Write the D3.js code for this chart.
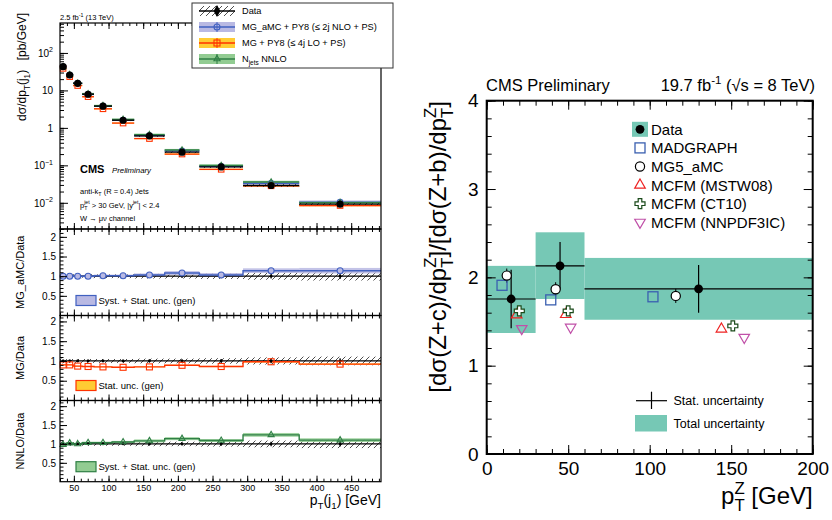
<!DOCTYPE html>
<html>
<head>
<meta charset="utf-8">
<script src="https://cdn.jsdelivr.net/npm/d3@7"></script>
<style>
  body { margin: 0; background: #fff; }
  svg { font-family: "Liberation Sans", Arial, Helvetica, sans-serif; }
  .axis path.domain { display: none; }
  .axis line { stroke: #000; }
</style>
</head>
<body>
<svg width="832" height="520"></svg>
<script>
// ---- left figure: W+jets, leading jet pT (13 TeV) ----
var binEdges  = [30, 39, 49, 62, 79, 105, 137, 181, 231, 294, 375, 493];
var dataXsec  = [43, 25.8, 15.5, 7.9, 3.8, 1.6, 0.61, 0.225, 0.091, 0.029, 0.0092];
var dataSyst  = [0.06, 0.05, 0.05, 0.05, 0.05, 0.05, 0.06, 0.06, 0.07, 0.09, 0.11];
var dataStat  = [0.01, 0.01, 0.01, 0.01, 0.01, 0.01, 0.02, 0.02, 0.03, 0.04, 0.05];
var ratioAMC  = [1.0, 1.0, 1.0, 1.0, 1.01, 1.01, 1.03, 1.08, 1.03, 1.14, 1.14];
var uncAMC    = [0.03, 0.03, 0.03, 0.03, 0.03, 0.03, 0.04, 0.05, 0.05, 0.06, 0.07];
var ratioMG   = [0.90, 0.90, 0.87, 0.86, 0.85, 0.84, 0.85, 0.89, 0.86, 0.98, 0.92];
var uncMG     = [0.01, 0.01, 0.01, 0.01, 0.01, 0.01, 0.01, 0.015, 0.015, 0.02, 0.02];
var ratioNNLO = [0.98, 1.02, 1.0, 1.03, 1.03, 1.05, 1.08, 1.14, 1.09, 1.24, 1.10];
var uncNNLO   = [0.03, 0.03, 0.03, 0.03, 0.03, 0.03, 0.04, 0.04, 0.04, 0.05, 0.05];

// ---- right figure: Z+c / Z+b ratio vs pT(Z) (8 TeV) ----
var zBins   = [0, 30, 60, 200];
var zcData  = [1.755, 2.13, 1.87];
var zcStat  = [0.33, 0.27, 0.27];
var zcTotLo = [1.37, 1.755, 1.52];
var zcTotHi = [2.13, 2.51, 2.22];
var madX  = [9.4, 39.3, 102],  madY  = [1.91, 1.745, 1.78];
var amcX  = [12.3, 42.3, 116], amcY  = [2.02, 1.865, 1.79];
var mstwX = [18.4, 48.5, 144], mstwY = [1.575, 1.58, 1.415];
var ct10X = [20, 50, 151],     ct10Y = [1.62, 1.62, 1.45];
var nnpdfX = [21.5, 51.5, 158], nnpdfY = [1.42, 1.435, 1.32];

var svg = d3.select("svg");

var blue = "#4060c0", blueBand = "#b9b9e3";
var red = "#ff3300", yellow = "#ffcc33";
var green = "#2f7f45", greenBand = "#92cc92";
var teal = "#76c8b5";

// hatch pattern for the data systematics
var defs = svg.append("defs");
defs.append("pattern")
    .attr("id", "hatch")
    .attr("patternUnits", "userSpaceOnUse")
    .attr("width", 6).attr("height", 6)
  .append("path")
    .attr("d", "M-1,1 l2,-2 M0,6 l6,-6 M5,7 l2,-2")
    .attr("stroke", "#222").attr("stroke-width", 0.8);

// helper for text with sub / superscripts, parts = [[text, "sub"|"sup"|"stack"|null, other]]
function richText(t, parts, size) {
  var off = 0;
  parts.forEach(function(p) {
    if (p[1] == "sub" || p[1] == "sup") {
      var d = p[1] == "sub" ? 0.3 * size : -0.45 * size;
      t.append("tspan").attr("font-size", size * 0.7).attr("dy", d - off).text(p[0]);
      off = d;
    } else if (p[1] == "stack") {
      // subscript p[0] with superscript p[2] placed over it
      var s = size * 0.7;
      t.append("tspan").attr("font-size", s).attr("dy", 0.3 * size - off).text(p[0]);
      t.append("tspan").attr("font-size", s).attr("dx", -0.61 * s * p[0].length).attr("dy", -0.72 * size).text(p[2]);
      off = -0.42 * size;
    } else {
      t.append("tspan").attr("dy", -off).text(p[0]);
      off = 0;
    }
  });
}

// ================= LEFT FIGURE =================
var xL = d3.scaleLinear().domain([30, 493]).range([60, 381]);
var yTop = d3.scaleLog().domain([0.002, 630]).range([229, 23]);
var panels = [
  { name: "MG_aMC/Data", ratio: ratioAMC, unc: uncAMC, line: blue, band: blueBand, mark: "circle",
    y: d3.scaleLinear().domain([0, 2.2]).range([315.5, 229]), leg: "Syst. + Stat. unc. (gen)" },
  { name: "MG/Data", ratio: ratioMG, unc: uncMG, line: red, band: yellow, mark: "square",
    y: d3.scaleLinear().domain([0, 2.15]).range([400.5, 315.5]), leg: "Stat. unc. (gen)" },
  { name: "NNLO/Data", ratio: ratioNNLO, unc: uncNNLO, line: green, band: greenBand, mark: "triangle",
    y: d3.scaleLinear().domain([0, 2.15]).range([481.7, 400.5]), leg: "Syst. + Stat. unc. (gen)" }
];
var bins = dataXsec.map(function(v, i) {
  return { lo: binEdges[i], hi: binEdges[i + 1], c: (binEdges[i] + binEdges[i + 1]) / 2, v: v, i: i };
});

function marker(g, type, x, y, size, col, fill) {
  if (type == "circle") {
    g.append("circle").attr("cx", x).attr("cy", y).attr("r", size * 0.5)
      .attr("fill", fill).attr("stroke", col).attr("stroke-width", 1.1);
  } else if (type == "square") {
    g.append("rect").attr("x", x - size / 2).attr("y", y - size / 2).attr("width", size).attr("height", size)
      .attr("fill", fill).attr("stroke", col).attr("stroke-width", 1.1);
  } else {
    g.append("path").attr("transform", "translate(" + x + "," + y + ")")
      .attr("d", d3.symbol(d3.symbolTriangle, size * size * 0.45)())
      .attr("fill", fill).attr("stroke", col).attr("stroke-width", 1.1);
  }
}

// ---- top panel ----
var topG = svg.append("g");
var theories = [
  { r: ratioMG, u: uncMG, line: red, band: yellow, mark: "square" },
  { r: ratioAMC, u: uncAMC, line: blue, band: blueBand, mark: "circle" },
  { r: ratioNNLO, u: uncNNLO, line: green, band: greenBand, mark: "triangle" }
];
theories.forEach(function(th) {
  bins.forEach(function(b) {
    var v = b.v * th.r[b.i];
    var y0 = yTop(v * (1 + th.u[b.i] + 0.03)), y1 = yTop(v * (1 - th.u[b.i] - 0.03));
    topG.append("rect").attr("x", xL(b.lo)).attr("width", xL(b.hi) - xL(b.lo))
      .attr("y", y0).attr("height", y1 - y0).attr("fill", th.band).attr("opacity", 0.9);
  });
});
bins.forEach(function(b) {
  var y0 = yTop(b.v * (1 + dataSyst[b.i])), y1 = yTop(b.v * (1 - dataSyst[b.i]));
  topG.append("rect").attr("x", xL(b.lo)).attr("width", xL(b.hi) - xL(b.lo))
    .attr("y", y0).attr("height", y1 - y0).attr("fill", "url(#hatch)");
});
theories.forEach(function(th) {
  bins.forEach(function(b) {
    var v = b.v * th.r[b.i];
    topG.append("line").attr("x1", xL(b.lo)).attr("x2", xL(b.hi))
      .attr("y1", yTop(v)).attr("y2", yTop(v)).attr("stroke", th.line).attr("stroke-width", 1.3);
  });
});
bins.forEach(function(b) {
  topG.append("line").attr("x1", xL(b.lo)).attr("x2", xL(b.hi))
    .attr("y1", yTop(b.v)).attr("y2", yTop(b.v)).attr("stroke", "#000").attr("stroke-width", 1.3);
});
theories.forEach(function(th) {
  bins.forEach(function(b) {
    var v = b.v * th.r[b.i];
    marker(topG, th.mark, xL(b.c), yTop(v), 5.5, th.line, "none");
  });
});
bins.forEach(function(b) {
  topG.append("circle").attr("cx", xL(b.c)).attr("cy", yTop(b.v)).attr("r", 3.6).attr("fill", "#000");
});

// top panel axes
var decades = [0.01, 0.1, 1, 10, 100];
topG.append("g").attr("class", "axis").attr("transform", "translate(60,0)")
  .call(d3.axisLeft(yTop).tickValues(yTop.ticks()).tickSize(-4).tickFormat(""));
var yAx = topG.append("g").attr("class", "axis").attr("transform", "translate(60,0)")
  .call(d3.axisLeft(yTop).tickValues(decades).tickSize(-8).tickPadding(7).tickFormat(""));
var decLabels = [["10", "\u22122"], ["10", "\u22121"], ["1", null], ["10", null], ["10", "2"]];
yAx.selectAll(".tick").each(function(d, i) {
  var t = d3.select(this).append("text").attr("x", -7).attr("dy", "0.35em")
    .attr("text-anchor", "end").attr("font-size", 10).attr("fill", "#000");
  var lab = decLabels[i];
  if (lab[1]) {
    t.append("tspan").text(lab[0]);
    t.append("tspan").attr("font-size", 7).attr("dy", -4.5).text(lab[1]);
  } else {
    t.text(lab[0]);
  }
});

function xTicks(g, yb, yt, labels) {
  g.append("g").attr("class", "axis").attr("transform", "translate(0," + yb + ")")
    .call(d3.axisBottom(xL).tickValues(d3.range(30, 491, 10)).tickSize(-3).tickFormat(""));
  g.append("g").attr("class", "axis").attr("transform", "translate(0," + yt + ")")
    .call(d3.axisTop(xL).tickValues(d3.range(30, 491, 10)).tickSize(-3).tickFormat(""));
  g.append("g").attr("class", "axis").attr("transform", "translate(0," + yt + ")")
    .call(d3.axisTop(xL).tickValues(d3.range(50, 491, 50)).tickSize(-6).tickFormat(""));
  var ax = g.append("g").attr("class", "axis").attr("transform", "translate(0," + yb + ")")
    .call(d3.axisBottom(xL).tickValues(d3.range(50, 491, 50)).tickSize(-6).tickPadding(3)
      .tickFormat(labels ? d3.format("d") : ""));
  ax.selectAll("text").attr("font-size", 9).attr("fill", "#000").attr("font-family", null);
}
xTicks(topG, 229, 23, false);

topG.append("rect").attr("x", 60).attr("y", 23).attr("width", 321).attr("height", 206)
  .attr("fill", "none").attr("stroke", "#000").attr("stroke-width", 1.2);

// y title
var yt = topG.append("text").attr("transform", "translate(26,13) rotate(-90)")
  .attr("text-anchor", "end").attr("font-size", 12);
richText(yt, [["d\u03c3/dp"], ["T", "sub"], ["(j"], ["1", "sub"], [")\u2002 [pb/GeV]"]], 12);

// lumi and CMS labels
var lumi = topG.append("text").attr("x", 60).attr("y", 20).attr("font-size", 7.5);
richText(lumi, [["2.5 fb"], ["-1", "sup"], [" (13 TeV)"]], 7.5);
topG.append("text").attr("x", 80).attr("y", 172.5).attr("font-size", 11).attr("font-weight", "bold").text("CMS");
topG.append("text").attr("x", 112).attr("y", 172.5).attr("font-size", 7.8).attr("font-style", "italic").text("Preliminary");
var l1 = topG.append("text").attr("x", 80).attr("y", 194).attr("font-size", 7.5);
richText(l1, [["anti-k"], ["T", "sub"], [" (R = 0.4) Jets"]], 7.5);
var l2 = topG.append("text").attr("x", 80).attr("y", 207.5).attr("font-size", 7.5);
richText(l2, [["p"], ["T", "stack", "jet"], [" > 30 GeV, |y"], ["jet", "sup"], ["| < 2.4"]], 7.5);
topG.append("text").attr("x", 80).attr("y", 220.5).attr("font-size", 7.5).text("W \u2192 \u03bc\u03bd channel");

// ---- ratio panels ----
panels.forEach(function(p, k) {
  var g = svg.append("g");
  var y = p.y;
  // data hatch band around 1
  bins.forEach(function(b) {
    g.append("rect").attr("x", xL(b.lo)).attr("width", xL(b.hi) - xL(b.lo))
      .attr("y", y(1 + dataSyst[b.i])).attr("height", y(1 - dataSyst[b.i]) - y(1 + dataSyst[b.i]))
      .attr("fill", "url(#hatch)");
  });
  // theory band
  bins.forEach(function(b) {
    var r = p.ratio[b.i], u = p.unc[b.i];
    g.append("rect").attr("x", xL(b.lo)).attr("width", xL(b.hi) - xL(b.lo))
      .attr("y", y(r + u)).attr("height", y(r - u) - y(r + u))
      .attr("fill", p.band).attr("opacity", 0.85);
  });
  g.append("line").attr("x1", 60).attr("x2", 381).attr("y1", y(1)).attr("y2", y(1))
    .attr("stroke", "#000").attr("stroke-width", 1.3);
  // theory step line
  var step = d3.line().curve(d3.curveStepAfter).x(function(d) { return xL(d[0]); }).y(function(d) { return y(d[1]); });
  var pts = bins.map(function(b) { return [b.lo, p.ratio[b.i]]; });
  pts.push([binEdges[binEdges.length - 1], p.ratio[p.ratio.length - 1]]);
  g.append("path").attr("d", step(pts)).attr("fill", "none").attr("stroke", p.line).attr("stroke-width", 1.4);
  // data points
  bins.forEach(function(b) {
    g.append("line").attr("x1", xL(b.c)).attr("x2", xL(b.c))
      .attr("y1", y(1 + dataStat[b.i] + 0.02)).attr("y2", y(1 - dataStat[b.i] - 0.02))
      .attr("stroke", "#000").attr("stroke-width", 1.2);
    g.append("circle").attr("cx", xL(b.c)).attr("cy", y(1)).attr("r", 1.4).attr("fill", "#000");
  });
  bins.forEach(function(b) {
    var fill = p.mark == "circle" ? blueBand : "none";
    marker(g, p.mark, xL(b.c), y(p.ratio[b.i]), 6, p.line, fill);
  });
  // axes
  g.append("g").attr("class", "axis").attr("transform", "translate(60,0)")
    .call(d3.axisLeft(y).tickValues(d3.range(0.1, y.domain()[1], 0.1)).tickSize(-3.5).tickFormat(""));
  var ya = g.append("g").attr("class", "axis").attr("transform", "translate(60,0)")
    .call(d3.axisLeft(y).tickValues([0.5, 1, 1.5, 2]).tickSize(-7).tickPadding(4).tickFormat(d3.format("")));
  ya.selectAll("text").attr("font-size", 10).attr("fill", "#000").attr("font-family", null);
  xTicks(g, y.range()[0], y.range()[1], k == 2);
  g.append("rect").attr("x", 60).attr("y", y.range()[1]).attr("width", 321).attr("height", y.range()[0] - y.range()[1])
    .attr("fill", "none").attr("stroke", "#000").attr("stroke-width", 1.2);
  g.append("text").attr("transform", "translate(24," + (y.range()[0] + y.range()[1]) / 2 + ") rotate(-90)")
    .attr("text-anchor", "middle").attr("font-size", 11).text(p.name);
  // legend box
  var ly = y.range()[0] - 15;
  g.append("rect").attr("x", 76).attr("y", ly - 5).attr("width", 20).attr("height", 10)
    .attr("fill", p.band).attr("stroke", p.line).attr("stroke-width", 1.2);
  g.append("text").attr("x", 98.5).attr("y", ly + 3.5).attr("font-size", 9.5).text(p.leg);
});

var xl = svg.append("text").attr("x", 381).attr("y", 505).attr("text-anchor", "end").attr("font-size", 14);
richText(xl, [["p"], ["T", "sub"], ["(j"], ["1", "sub"], [") [GeV]"]], 14);

// ---- left legend ----
var leg = svg.append("g");
leg.append("rect").attr("x", 192).attr("y", 3).attr("width", 201).attr("height", 65)
  .attr("fill", "#fff").attr("stroke", "#333").attr("stroke-width", 1);
var legRows = [
  { label: [["Data"]], band: "url(#hatch)", line: "#000", mark: "data" },
  { label: [["MG_aMC + PY8 (\u2264 2j NLO + PS)"]], band: blueBand, line: blue, mark: "circle" },
  { label: [["MG + PY8 (\u2264 4j LO + PS)"]], band: yellow, line: red, mark: "square" },
  { label: [["N"], ["jets", "sub"], [" NNLO"]], band: greenBand, line: green, mark: "triangle" }
];
legRows.forEach(function(r, i) {
  var cy = 11 + i * 16;
  leg.append("rect").attr("x", 199).attr("y", cy - 5).attr("width", 36).attr("height", 10).attr("fill", r.band);
  leg.append("line").attr("x1", 199).attr("x2", 235).attr("y1", cy).attr("y2", cy)
    .attr("stroke", r.line).attr("stroke-width", 1.3);
  leg.append("line").attr("x1", 217).attr("x2", 217).attr("y1", cy - 5).attr("y2", cy + 5)
    .attr("stroke", r.line).attr("stroke-width", 1);
  if (r.mark == "data") {
    leg.append("path").attr("transform", "translate(217," + cy + ")")
      .attr("d", d3.symbol(d3.symbolDiamond, 40)()).attr("fill", "#000");
  } else {
    marker(leg, r.mark, 217, cy, 6, r.line, "none");
  }
  var t = leg.append("text").attr("x", 242).attr("y", cy + 3.2).attr("font-size", 9.2);
  richText(t, r.label, 9.2);
});

// ================= RIGHT FIGURE =================
var xR = d3.scaleLinear().domain([0, 200]).range([486.7, 812.7]);
var yR = d3.scaleLinear().domain([0, 4]).range([454, 100.7]);
var rg = svg.append("g");

zBins.slice(0, -1).forEach(function(lo, i) {
  rg.append("rect").attr("x", xR(lo)).attr("width", xR(zBins[i + 1]) - xR(lo))
    .attr("y", yR(zcTotHi[i])).attr("height", yR(zcTotLo[i]) - yR(zcTotHi[i])).attr("fill", teal);
});
zBins.slice(0, -1).forEach(function(lo, i) {
  var c = (lo + zBins[i + 1]) / 2;
  rg.append("line").attr("x1", xR(lo)).attr("x2", xR(zBins[i + 1]))
    .attr("y1", yR(zcData[i])).attr("y2", yR(zcData[i])).attr("stroke", "#000").attr("stroke-width", 1.2);
  rg.append("line").attr("x1", xR(c)).attr("x2", xR(c))
    .attr("y1", yR(zcData[i] + zcStat[i])).attr("y2", yR(zcData[i] - zcStat[i])).attr("stroke", "#000").attr("stroke-width", 1.2);
});

function openCross(g, x, y, col) {
  var a = 1.8, b = 5;
  var p = [[-a, -b], [a, -b], [a, -a], [b, -a], [b, a], [a, a], [a, b], [-a, b], [-a, a], [-b, a], [-b, -a], [-a, -a]];
  g.append("path").attr("d", "M" + p.map(function(q) { return (x + q[0]) + "," + (y + q[1]); }).join("L") + "Z")
    .attr("fill", "#fff").attr("stroke", col).attr("stroke-width", 1.2);
}
function rMarker(g, type, x, y) {
  if (type == "mad") {
    g.append("rect").attr("x", x - 5).attr("y", y - 5).attr("width", 10).attr("height", 10)
      .attr("fill", "none").attr("stroke", "#3a5fb0").attr("stroke-width", 1.3);
  } else if (type == "amc") {
    g.append("circle").attr("cx", x).attr("cy", y).attr("r", 4.6)
      .attr("fill", "#fff").attr("stroke", "#000").attr("stroke-width", 1.2);
  } else if (type == "mstw") {
    g.append("path").attr("transform", "translate(" + x + "," + y + ")")
      .attr("d", d3.symbol(d3.symbolTriangle, 48)()).attr("fill", "none").attr("stroke", "#ee2222").attr("stroke-width", 1.2);
  } else if (type == "ct10") {
    openCross(g, x, y, "#1a4a1a");
  } else if (type == "nnpdf") {
    g.append("path").attr("transform", "translate(" + x + "," + y + ") rotate(180)")
      .attr("d", d3.symbol(d3.symbolTriangle, 48)()).attr("fill", "none").attr("stroke", "#c050a8").attr("stroke-width", 1.2);
  } else {
    g.append("circle").attr("cx", x).attr("cy", y).attr("r", 4.4).attr("fill", "#000");
  }
}
amcX.forEach(function(x, i) {
  rg.append("line").attr("x1", xR(x)).attr("x2", xR(x)).attr("y1", yR(amcY[i] + 0.08)).attr("y2", yR(amcY[i] - 0.08))
    .attr("stroke", "#000").attr("stroke-width", 1);
});
madX.forEach(function(x, i) { rMarker(rg, "mad", xR(x), yR(madY[i])); });
amcX.forEach(function(x, i) { rMarker(rg, "amc", xR(x), yR(amcY[i])); });
mstwX.forEach(function(x, i) { rMarker(rg, "mstw", xR(x), yR(mstwY[i])); });
ct10X.forEach(function(x, i) { rMarker(rg, "ct10", xR(x), yR(ct10Y[i])); });
nnpdfX.forEach(function(x, i) { rMarker(rg, "nnpdf", xR(x), yR(nnpdfY[i])); });
zBins.slice(0, -1).forEach(function(lo, i) {
  rMarker(rg, "data", xR((lo + zBins[i + 1]) / 2), yR(zcData[i]));
});

// right axes
rg.append("g").attr("class", "axis").attr("transform", "translate(0,454)")
  .call(d3.axisBottom(xR).tickValues(d3.range(0, 201, 10)).tickSize(-5).tickFormat(""));
rg.append("g").attr("class", "axis").attr("transform", "translate(0,100.7)")
  .call(d3.axisTop(xR).tickValues(d3.range(0, 201, 10)).tickSize(-5).tickFormat(""));
rg.append("g").attr("class", "axis").attr("transform", "translate(0,100.7)")
  .call(d3.axisTop(xR).tickValues(d3.range(0, 201, 50)).tickSize(-9).tickFormat(""));
var xa = rg.append("g").attr("class", "axis").attr("transform", "translate(0,454)")
  .call(d3.axisBottom(xR).tickValues(d3.range(0, 201, 50)).tickSize(-9).tickPadding(8));
rg.append("g").attr("class", "axis").attr("transform", "translate(486.7,0)")
  .call(d3.axisLeft(yR).tickValues(d3.range(0, 4.01, 0.2)).tickSize(-5).tickFormat(""));
rg.append("g").attr("class", "axis").attr("transform", "translate(812.7,0)")
  .call(d3.axisRight(yR).tickValues(d3.range(0, 4.01, 0.2)).tickSize(-5).tickFormat(""));
rg.append("g").attr("class", "axis").attr("transform", "translate(812.7,0)")
  .call(d3.axisRight(yR).tickValues([0, 1, 2, 3, 4]).tickSize(-9).tickFormat(""));
var ya = rg.append("g").attr("class", "axis").attr("transform", "translate(486.7,0)")
  .call(d3.axisLeft(yR).tickValues([0, 1, 2, 3, 4]).tickSize(-9).tickPadding(8).tickFormat(d3.format("d")));
xa.selectAll("text").attr("font-size", 19).attr("fill", "#000").attr("font-family", null);
ya.selectAll("text").attr("font-size", 19).attr("fill", "#000").attr("font-family", null);
rg.append("rect").attr("x", 486.7).attr("y", 100.7).attr("width", 326).attr("height", 353.3)
  .attr("fill", "none").attr("stroke", "#000").attr("stroke-width", 2);

// titles
rg.append("text").attr("x", 486).attr("y", 91).attr("font-size", 16.5).text("CMS Preliminary");
var lumiR = rg.append("text").attr("x", 815).attr("y", 91).attr("text-anchor", "end").attr("font-size", 16.5);
richText(lumiR, [["19.7 fb"], ["-1", "sup"], [" (\u221as = 8 TeV)"]], 16.5);

var ytR = rg.append("text").attr("transform", "translate(446,101) rotate(-90)")
  .attr("text-anchor", "end").attr("font-size", 24);
richText(ytR, [["[d\u03c3(Z+c)/dp"], ["T", "stack", "Z"], ["]/[d\u03c3(Z+b)/dp"], ["T", "stack", "Z"], ["]"]], 24);

var xlR = rg.append("text").attr("x", 812.7).attr("y", 504).attr("text-anchor", "end").attr("font-size", 24);
richText(xlR, [["p"], ["T", "stack", "Z"], [" [GeV]"]], 24);

// right legend
var rLeg = [["data", "Data"], ["mad", "MADGRAPH"], ["amc", "MG5_aMC"],
            ["mstw", "MCFM (MSTW08)"], ["ct10", "MCFM (CT10)"], ["nnpdf", "MCFM (NNPDF3IC)"]];
rLeg.forEach(function(r, i) {
  var cy = 129.3 + i * 18.6;
  if (r[0] == "data") {
    rg.append("rect").attr("x", 632).attr("y", cy - 7.5).attr("width", 16).attr("height", 15).attr("fill", teal);
  }
  rMarker(rg, r[0], 640, cy);
  rg.append("text").attr("x", 651).attr("y", cy + 5.5).attr("font-size", 15).text(r[1]);
});
rg.append("line").attr("x1", 636).attr("x2", 667).attr("y1", 400.7).attr("y2", 400.7).attr("stroke", "#000").attr("stroke-width", 1.2);
rg.append("line").attr("x1", 651.5).attr("x2", 651.5).attr("y1", 391.7).attr("y2", 409).attr("stroke", "#000").attr("stroke-width", 1.2);
rg.append("text").attr("x", 673.5).attr("y", 405).attr("font-size", 12.5).text("Stat. uncertainty");
rg.append("rect").attr("x", 635).attr("y", 415).attr("width", 32).attr("height", 16.5).attr("fill", teal);
rg.append("text").attr("x", 673.5).attr("y", 427.5).attr("font-size", 12.5).text("Total uncertainty");
</script>
</body>
</html>
